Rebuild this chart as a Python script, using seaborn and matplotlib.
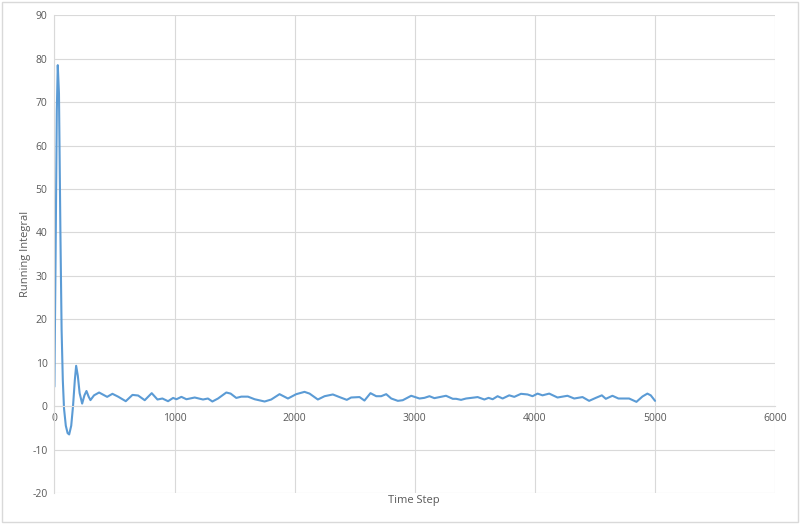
"""Running integral vs time step."""

import matplotlib.pyplot as plt
import pandas as pd
import seaborn as sns

time_step = [
    0, 10, 20, 28, 38, 50, 60, 70, 80, 95, 110, 123, 140, 155, 170, 181, 195,
    210, 231, 250, 267, 285, 300, 330, 372, 439, 483, 530, 594, 650, 697, 752,
    810, 858, 899, 946, 988, 1016, 1057, 1099, 1168, 1237, 1278, 1315, 1362,
    1431, 1467, 1514, 1556, 1611, 1667, 1750, 1805, 1874, 1944, 2013, 2082,
    2124, 2193, 2249, 2318, 2373, 2434, 2470, 2540, 2581, 2631, 2679, 2720,
    2762, 2804, 2859, 2900, 2970, 3039, 3080, 3122, 3163, 3260, 3316, 3344,
    3385, 3427, 3496, 3523, 3579, 3614, 3648, 3689, 3731, 3786, 3828, 3884,
    3939, 3980, 4022, 4063, 4119, 4188, 4271, 4327, 4396, 4451, 4507, 4557,
    4590, 4645, 4695, 4784, 4845, 4895, 4936, 4964, 5000,
]
running_integral = [
    4.5, 35, 68, 78.5, 72, 40, 17.5, 6, -0.5, -4.5, -6.2, -6.5, -4.5, 0, 6,
    9.3, 7, 3, 0.6, 2.5, 3.5, 2.2, 1.4, 2.5, 3.15, 2.15, 2.85, 2.2, 1.15, 2.6,
    2.46, 1.38, 3.0, 1.54, 1.77, 1.15, 1.9, 1.6, 2.15, 1.6, 2.0, 1.54, 1.77,
    1.08, 1.77, 3.15, 2.9, 1.9, 2.2, 2.2, 1.6, 1.08, 1.54, 2.77, 1.77, 2.77,
    3.3, 2.9, 1.54, 2.3, 2.7, 2.1, 1.46, 2.0, 2.1, 1.3, 3.0, 2.3, 2.3, 2.77,
    1.77, 1.23, 1.38, 2.4, 1.77, 1.92, 2.3, 1.85, 2.4, 1.7, 1.7, 1.46, 1.77,
    2.0, 2.1, 1.54, 1.92, 1.6, 2.3, 1.77, 2.5, 2.15, 2.85, 2.7, 2.3, 2.9, 2.5,
    2.9, 2.0, 2.4, 1.77, 2.1, 1.23, 1.92, 2.5, 1.7, 2.4, 1.77, 1.77, 1.0,
    2.23, 2.9, 2.5, 1.23,
]

x_ticks = [0, 1000, 2000, 3000, 4000, 5000, 6000]
y_ticks = [-20, -10, 0, 10, 20, 30, 40, 50, 60, 70, 80, 90]

df = pd.DataFrame({"Time Step": time_step, "Running Integral": running_integral})

sns.set_theme(style="whitegrid")
plt.rcParams["font.family"] = ["Open Sans", "DejaVu Sans"]
plt.rcParams["axes.unicode_minus"] = False

fig = plt.figure(figsize=(8, 5.24), dpi=100)
ax = fig.add_axes([0.068, 0.059, 0.901, 0.912])

sns.lineplot(data=df, x="Time Step", y="Running Integral", ax=ax,
             color="#5B9BD5", linewidth=1.5)

ax.set_xlim(x_ticks[0], x_ticks[-1])
ax.set_ylim(y_ticks[0], y_ticks[-1])
ax.set_xticks(x_ticks)
ax.set_yticks(y_ticks)
ax.tick_params(axis="both", labelsize=7.5, colors="#595959", length=0, pad=5)
ax.grid(color="#D9D9D9", linewidth=0.8)
for side, spine in ax.spines.items():
    spine.set_visible(side in ("left", "bottom"))
    spine.set_color("#D9D9D9")
    spine.set_linewidth(0.8)
# category axis crosses at zero, like the Excel original
ax.spines["bottom"].set_position(("data", 0))
ax.set_xlabel("")
ax.set_ylabel("Running Integral", fontsize=8, color="#595959")
ax.yaxis.set_label_coords(-0.032, 0.5)
fig.text(0.5175, 1 - 501 / 524, "Time Step", fontsize=8, color="#595959",
         ha="center", va="center")

# outer chart border
fig.patches.append(plt.Rectangle((0.003, 0.003), 0.994, 0.994, transform=fig.transFigure,
                                 fill=False, edgecolor="#D9D9D9", linewidth=1))

fig.savefig("out.png", dpi=100)
plt.close(fig)
